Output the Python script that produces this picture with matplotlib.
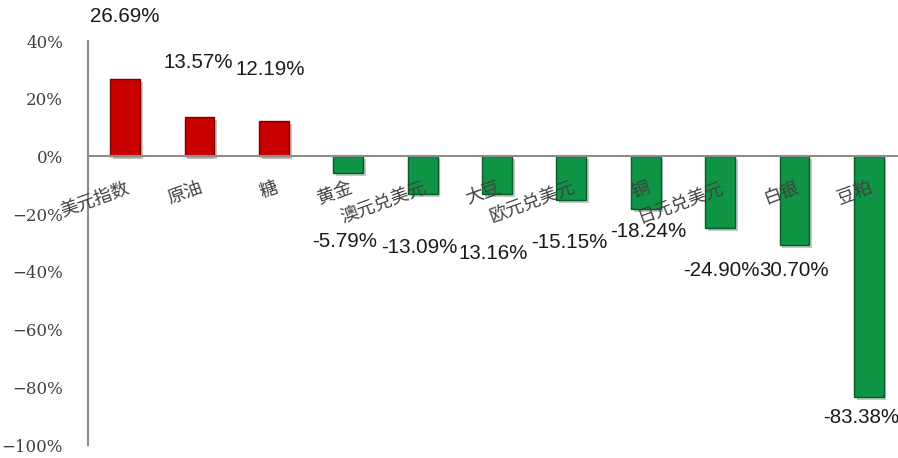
import matplotlib
matplotlib.use("Agg")
import matplotlib.pyplot as plt
import matplotlib.patheffects as pe
from matplotlib.ticker import FuncFormatter, MultipleLocator

# data
categories = ["美元指数", "原油", "糖", "黄金", "澳元兑美元", "大豆",
              "欧元兑美元", "铜", "日元兑美元", "白银", "豆粕"]
changes = [26.69, 13.57, 12.19, -5.79, -13.09, -13.16,
           -15.15, -18.24, -24.90, -30.70, -83.38]
# label texts as printed on the chart (two lost their minus sign)
value_texts = ["26.69%", "13.57%", "12.19%", "-5.79%", "-13.09%", "13.16%",
               "-15.15%", "-18.24%", "-24.90%", "30.70%", "-83.38%"]

# where the value labels sit (data units), and small x nudges
label_y = [48.5, 32.5, 30.0, -29.5, -31.5, -33.5, -30.0, -26.0, -39.5, -39.5, -90.5]
label_dx = [0.0, -0.02, -0.05, -0.05, -0.04, -0.05, -0.03, 0.03, 0.02, 0.0, -0.1]

fig = plt.figure(figsize=(8.98, 4.58), dpi=100)
ax = fig.add_axes([88 / 898, 13 / 458, 818 / 898, 404 / 458])

x = list(range(len(categories)))
colors = ["#C80000" if v >= 0 else "#0E9444" for v in changes]
edges = ["#7A0000" if v >= 0 else "#085A28" for v in changes]

bars = ax.bar(x, changes, width=0.4, color=colors, edgecolor=edges, linewidth=1.0,
              zorder=2)
for b in bars:
    b.set_path_effects([pe.SimplePatchShadow(offset=(2, -2), alpha=0.25),
                        pe.Normal()])

for i, txt in enumerate(value_texts):
    ax.text(i + label_dx[i], label_y[i], txt, ha="center", va="center",
            fontsize=14.8, family="Liberation Sans", color="#1a1a1a", zorder=4,
            clip_on=False)

ax.set_xlim(-0.5, len(categories) - 0.5)
ax.set_ylim(-100, 40)
ax.set_axisbelow(False)
ax.yaxis.set_major_locator(MultipleLocator(20))
ax.yaxis.set_major_formatter(
    FuncFormatter(lambda v, _: f"{v:.0f}%".replace("-", "\u2212")))

for side in ["top", "right"]:
    ax.spines[side].set_visible(False)
ax.spines["bottom"].set_position(("data", 0))
for side in ["left", "bottom"]:
    ax.spines[side].set_color("#8c8c8c")
    ax.spines[side].set_linewidth(1.5)

ax.tick_params(axis="y", length=0, pad=18, labelsize=12, labelcolor="#404040")
for lab in ax.get_yticklabels():
    lab.set_family("DejaVu Serif")

ax.set_xticks(x)
ax.set_xticklabels(categories, rotation=20, ha="right", rotation_mode="anchor",
                   family=["Noto Sans CJK SC", "DejaVu Sans"], fontsize=13,
                   color="#404040")
ax.tick_params(axis="x", length=0, pad=16)

fig.savefig("out.png", dpi=100)
